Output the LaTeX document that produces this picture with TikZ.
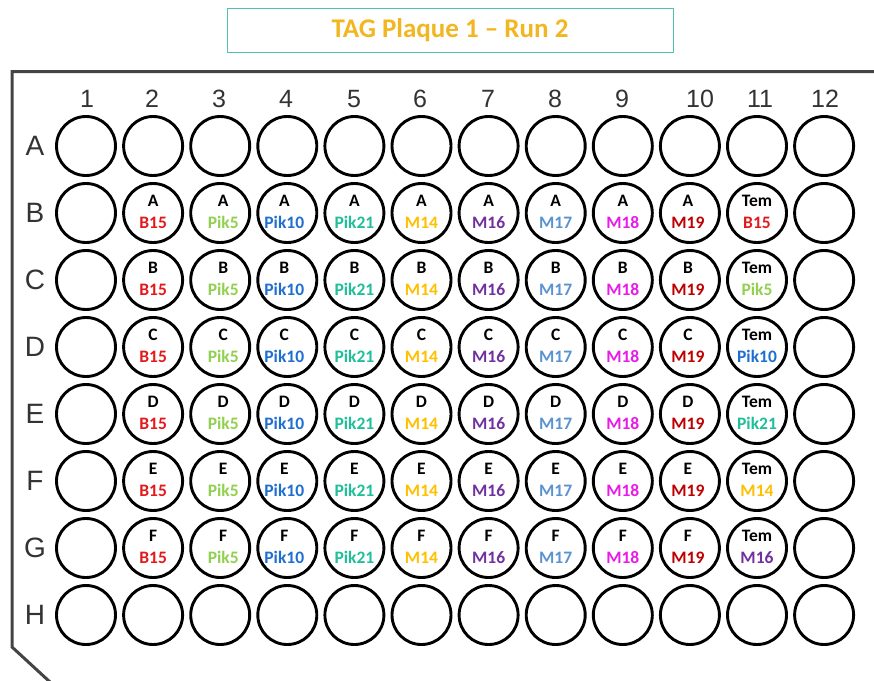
\documentclass[tikz,border=0pt]{standalone}
\usepackage{fontspec}
\setmainfont{Carlito}
\newfontfamily\arialfont{Liberation Sans}
\newfontfamily\calfont{Carlito}
\definecolor{titlegold}{HTML}{F2B720}
\definecolor{titleteal}{HTML}{4FC1AE}
\definecolor{plategray}{HTML}{444444}
\definecolor{labgray}{HTML}{333333}
\definecolor{cB15}{HTML}{E3191C}
\definecolor{cPik5}{HTML}{92D050}
\definecolor{cPik10}{HTML}{1F6FD0}
\definecolor{cPik21}{HTML}{1FBF9A}
\definecolor{cM14}{HTML}{FFC000}
\definecolor{cM16}{HTML}{7030A0}
\definecolor{cM17}{HTML}{5B93D0}
\definecolor{cM18}{HTML}{E81CE8}
\definecolor{cM19}{HTML}{C00000}
\tikzset{
  titlebox/.style={draw=titleteal, line width=1pt, minimum width=446pt, minimum height=44pt,
    inner sep=0pt, text=titlegold, font=\calfont\bfseries\fontsize{27}{27}\selectfont},
  plate/.style={draw=plategray, line width=3pt, line join=miter},
  collabel/.style={text=labgray, inner sep=0pt, font=\arialfont\fontsize{25}{25}\selectfont},
  rowlabel/.style={text=labgray, inner sep=0pt, font=\arialfont\fontsize{28}{28}\selectfont},
  well/.style={circle, draw=black, line width=2.9pt, minimum size=59pt, inner sep=0pt},
  welltext/.style={inner sep=0pt, anchor=base, font=\calfont\bfseries\fontsize{17.5}{17.5}\selectfont},
}
\begin{document}
\begin{tikzpicture}[x=1pt,y=-1pt]
\useasboundingbox (0,0) rectangle (874,680);
\fill[white] (0,0) rectangle (874,680);
\node[titlebox] (title) at (450,30) {TAG Plaque 1 – Run 2};
\draw[plate] (880,71.5) -- (12,71.5) -- (12,647) -- (50,682);
\foreach \c/\lx in {1/87,2/152,3/219,4/286,5/354,6/420,7/488,8/555,9/622,10/700,11/760,12/825}
  \node[collabel] (col\c) at (\lx,99) {\c};
\foreach \r [count=\i] in {A,B,C,D,E,F,G,H}
  \node[rowlabel] (row\r) at (35,{146+67*(\i-1)}) {\r};
\foreach \r in {1,...,8}
  \foreach \c in {1,...,12}
    \node[well] (w-\r-\c) at ({86+67.1*(\c-1)},{146+67*(\r-1)}) {};
\foreach \r/\l in {2/A,3/B,4/C,5/D,6/E,7/F}
  \foreach \c/\s/\dx in {2/B15/0,3/Pik5/3,4/Pik10/-3,5/Pik21/0,6/M14/0,7/M16/0,8/M17/0,9/M18/0,10/M19/-2}{
    \node[welltext] (t-\r-\c) at ([shift={(\dx,-6.7)}]w-\r-\c.center) {\l};
    \node[welltext, text=c\s] (s-\r-\c) at ([shift={(\dx,15)}]w-\r-\c.center) {\s};
  }
\foreach \r/\s in {2/B15,3/Pik5,4/Pik10,5/Pik21,6/M14,7/M16}{
  \node[welltext] (t-\r-11) at ([shift={(0,-6.7)}]w-\r-11.center) {Tem};
  \node[welltext, text=c\s] (s-\r-11) at ([shift={(0,15)}]w-\r-11.center) {\s};
}
\end{tikzpicture}
\end{document}
